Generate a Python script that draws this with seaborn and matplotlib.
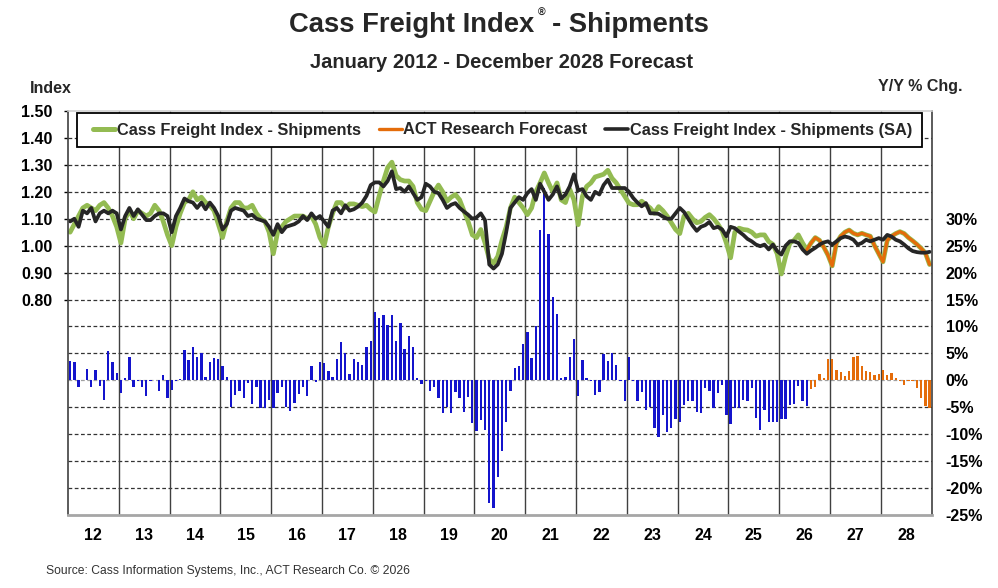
import numpy as np
import pandas as pd
import matplotlib.pyplot as plt
import seaborn as sns
from matplotlib.lines import Line2D
from matplotlib.patches import Rectangle

# x axis: monthly, Jan 2012 - Dec 2028, one label per year
year_labels = ['12', '13', '14', '15', '16', '17', '18', '19', '20',
               '21', '22', '23', '24', '25', '26', '27', '28']

# Cass Freight Index - Shipments (actual months)
cass_shipments = [
    1.05, 1.08, 1.11, 1.14, 1.15, 1.14, 1.13, 1.15, 1.16, 1.14, 1.11, 1.07,
    1.01, 1.10, 1.13, 1.10, 1.13, 1.12, 1.11, 1.12, 1.15, 1.13, 1.09, 1.04,
    1.00, 1.07, 1.12, 1.16, 1.17, 1.20, 1.17, 1.18, 1.16, 1.15, 1.13, 1.08,
    1.03, 1.09, 1.14, 1.16, 1.16, 1.14, 1.14, 1.15, 1.12, 1.10, 1.09, 1.05,
    0.97, 1.05, 1.07, 1.09, 1.10, 1.11, 1.11, 1.11, 1.10, 1.11, 1.08, 1.03,
    1.00, 1.07, 1.12, 1.16, 1.16, 1.14, 1.155, 1.155, 1.15, 1.145, 1.15, 1.135,
    1.125, 1.185, 1.24, 1.29, 1.31, 1.26, 1.245, 1.24, 1.24, 1.22, 1.16, 1.135,
    1.13, 1.165, 1.20, 1.225, 1.20, 1.165, 1.18, 1.19, 1.17, 1.13, 1.09, 1.04,
    1.03, 1.06, 1.01, 0.95, 0.935, 0.96, 1.02, 1.07, 1.14, 1.18, 1.16, 1.14,
    1.115, 1.14, 1.20, 1.233, 1.27, 1.233, 1.20, 1.233, 1.17, 1.16, 1.21, 1.17,
    1.078, 1.183, 1.22, 1.233, 1.255, 1.26, 1.265, 1.28, 1.25, 1.233, 1.208, 1.183,
    1.158, 1.152, 1.152, 1.165, 1.152, 1.14, 1.12, 1.145, 1.13, 1.11, 1.085, 1.06,
    1.045, 1.11, 1.12, 1.10, 1.085, 1.09, 1.105, 1.115, 1.10, 1.08, 1.055, 1.01,
    0.955, 1.05, 1.065, 1.06, 1.058, 1.05, 1.035, 1.04, 1.04, 1.015, 1.005, 0.97,
    0.895, 0.96, 1.01, 1.02, 1.04, 1.01, 0.985,
]

# ACT Research forecast of the index
act_forecast = [
    1.01, 1.03, 1.02, 0.995, 0.965,
    0.925, 1.01, 1.035, 1.05, 1.058, 1.046, 1.04, 1.046, 1.04, 1.035, 1.00, 0.97,
    0.94, 1.02, 1.035, 1.045, 1.052, 1.045, 1.03, 1.018, 1.005, 0.99, 0.973, 0.93,
]

# Cass Freight Index - Shipments (SA), whole span
cass_shipments_sa = [
    1.09, 1.10, 1.07, 1.13, 1.12, 1.14, 1.09, 1.12, 1.13, 1.12, 1.13, 1.12,
    1.06, 1.11, 1.14, 1.11, 1.135, 1.115, 1.095, 1.095, 1.11, 1.12, 1.12, 1.11,
    1.05, 1.11, 1.14, 1.175, 1.165, 1.16, 1.14, 1.16, 1.135, 1.16, 1.14, 1.11,
    1.06, 1.08, 1.13, 1.14, 1.135, 1.13, 1.11, 1.115, 1.10, 1.095, 1.09, 1.07,
    1.04, 1.08, 1.05, 1.07, 1.075, 1.08, 1.09, 1.11, 1.095, 1.12, 1.10, 1.11,
    1.09, 1.07, 1.13, 1.14, 1.12, 1.15, 1.13, 1.135, 1.145, 1.16, 1.185, 1.225,
    1.235, 1.235, 1.22, 1.24, 1.276, 1.21, 1.214, 1.20, 1.22, 1.195, 1.17, 1.18,
    1.23, 1.22, 1.20, 1.195, 1.17, 1.14, 1.152, 1.158, 1.14, 1.127, 1.115, 1.10,
    1.105, 1.12, 1.095, 0.93, 0.915, 0.93, 0.97, 1.05, 1.14, 1.16, 1.18, 1.17,
    1.195, 1.21, 1.17, 1.23, 1.20, 1.17, 1.19, 1.22, 1.175, 1.19, 1.22, 1.265,
    1.205, 1.21, 1.183, 1.17, 1.20, 1.19, 1.225, 1.245, 1.214, 1.214, 1.214, 1.214,
    1.20, 1.177, 1.16, 1.146, 1.158, 1.12, 1.12, 1.118, 1.108, 1.10, 1.10, 1.12,
    1.14, 1.125, 1.10, 1.075, 1.055, 1.07, 1.076, 1.088, 1.065, 1.07, 1.06, 1.035,
    1.07, 1.065, 1.052, 1.04, 1.025, 1.016, 1.004, 0.998, 1.004, 0.986, 1.004, 0.98,
    0.967, 1.0, 1.016, 1.016, 1.01, 0.986, 0.97, 0.982, 0.992, 1.004, 1.012, 1.016,
    1.004, 1.016, 1.028, 1.034, 1.03, 1.022, 1.004, 1.01, 1.022, 1.016, 1.022, 1.028,
    1.022, 1.04, 1.034, 1.022, 1.016, 1.004, 0.99, 0.98, 0.976, 0.974, 0.974, 0.977,
]

# Y/Y % change, actual and forecast
yoy_actual = [
    3.6, 3.4, -1.25, 0.1, 2.1, -1.25, 1.9, -1.0, -3.6, 5.4, 3.4, 1.4,
    -2.4, 0.4, 4.3, -1.25, -0.2, -1.25, -3.0, -0.2, 0.1, -1.9, 0.9, -3.2,
    -1.75, -0.1, 0.3, 5.6, 3.7, 6.1, 4.4, 5.0, 0.6, 3.4, 4.1, 3.9,
    2.6, 0.6, -4.9, -2.7, -1.9, -3.3, -0.5, -4.4, -1.25, -5.2, -5.2, -3.6,
    -5.2, -2.4, -1.25, -5.0, -5.7, -4.25, -2.5, -1.25, -3.0, 2.6, -0.3, 3.4,
    3.25, 1.8, 0.6, 4.0, 7.1, 5.0, 1.25, 3.9, 3.4, 2.9, 6.25, 7.3,
    12.6, 11.6, 12.1, 10.25, 12.1, 7.3, 10.6, 5.9, 8.25, 6.1, 0.4, -0.6,
    -0.2, -1.9, -1.25, -3.3, -6.0, -5.0, -6.0, -2.1, -3.3, -5.8, -3.1, -8.0,
    -9.4, -7.4, -9.25, -22.7, -23.7, -17.9, -13.1, -7.7, -1.9, 2.3, 2.6, 6.8,
    8.9, 4.1, 10.1, 27.9, 35.7, 27.2, 15.5, 12.4, 0.4, 0.6, 4.4, 7.75,
    -2.9, 3.7, 0.4, -0.2, -2.7, -2.1, 4.8, 3.6, 5.1, 2.9, -0.2, -3.75,
    4.4, -0.2, -3.9, -2.25, -5.5, -4.9, -8.9, -10.5, -6.4, -9.6, -8.9, -7.1,
    -7.75, -4.6, -3.75, -3.9, -5.8, -6.0, -1.4, -1.9, -5.2, -2.4, -0.8, -6.4,
    -8.1, -5.2, -5.2, -3.6, -3.9, -1.4, -6.9, -9.25, -5.5, -7.75, -7.75, -7.75,
    -7.1, -7.1, -4.6, -4.4, -1.1, -3.9, -4.75,
]
yoy_forecast = [
    -1.6, -1.25, 1.25, 0.4, 3.9,
    3.9, 2.0, 1.5, 0.75, 1.7, 4.4, 4.6, 2.75, 1.8, 1.5, 0.9, 1.25,
    1.9, 0.9, 1.4, 0.4, -0.2, -0.8, -0.2, -0.2, -1.4, -3.3, -4.75, -5.2,
]

GREEN = '#93bb52'
ORANGE = '#e46c0a'
BLACK = '#262626'
BLUE = '#1414cc'

n_act = len(cass_shipments)
months = np.arange(n_act + len(act_forecast))

bars = pd.DataFrame({
    'month': months,
    'yoy': yoy_actual + yoy_forecast,
    'kind': ['actual'] * n_act + ['forecast'] * len(act_forecast),
})

sns.set_theme(style='white')
plt.rcParams['font.family'] = ['Liberation Sans', 'DejaVu Sans']
plt.rcParams['font.weight'] = 'bold'

# plot box in pixels: x 68..931.7, y 111..515
W, H = 863.7, 404.0
fig = plt.figure(figsize=(9.98, 5.88), dpi=100)
ax = fig.add_axes([68 / 998, 73 / 588, W / 998, H / 588])
ax2 = ax.twinx()

# dashed horizontal grid (shared by both scales) and year separators
for v in range(-20, 50, 5):
    ax.axhline(v, color='#a0a0a0' if v == 0 else '#333333', lw=0.9,
               ls=(0, (3, 2)), zorder=0.5)
for k in range(1, len(year_labels)):
    ax.axvline(12 * k - 0.5, color='#404040', lw=1.0, zorder=0.5)

# Y/Y % change bars (right scale)
sns.barplot(data=bars, x='month', y='yoy', hue='kind',
            hue_order=['actual', 'forecast'],
            palette={'actual': BLUE, 'forecast': ORANGE},
            native_scale=True, dodge=False, width=0.55, saturation=1,
            linewidth=0, errorbar=None, legend=False, ax=ax, zorder=1)

# index lines (left scale)
sns.lineplot(x=months, y=cass_shipments + act_forecast, color=GREEN, lw=3.4,
             ax=ax2, solid_joinstyle='round')
sns.lineplot(x=months[n_act - 1:], y=[cass_shipments[-1]] + act_forecast,
             color=ORANGE, lw=2.3, ax=ax2, solid_joinstyle='round')
sns.lineplot(x=months, y=cass_shipments_sa, color=BLACK, lw=2.7, ax=ax2,
             solid_joinstyle='round')

ax.set_xlim(-0.5, len(months) - 0.5)
ax.set_ylim(-25, 50)
ax2.set_ylim(0, 1.5)

ax.set_xticks([12 * k + 5.5 for k in range(len(year_labels))])
ax.set_xticklabels(year_labels)
ax.yaxis.tick_right()
pct_ticks = list(range(-25, 35, 5))
ax.set_yticks(pct_ticks)
ax.set_yticklabels([f'{v}%' for v in pct_ticks])
ax2.yaxis.tick_left()
idx_ticks = [0.8, 0.9, 1.0, 1.1, 1.2, 1.3, 1.4, 1.5]
ax2.set_yticks(idx_ticks)
ax2.set_yticklabels([f'{v:.2f}' for v in idx_ticks])

ax.tick_params(axis='x', length=0, pad=9, labelsize=11.5, colors='black')
ax.tick_params(axis='y', length=0, pad=10, labelsize=11.5, colors='black',
               right=True, labelright=True, left=False, labelleft=False)
ax2.tick_params(axis='y', length=3, width=1, direction='out', pad=8,
                labelsize=11.5, colors='black', left=True, labelleft=True,
                right=False, labelright=False)
for a in (ax, ax2):
    a.set_xlabel('')
    a.set_ylabel('')
    a.grid(False)
for s in ax.spines.values():
    s.set_visible(False)
ax2.spines['top'].set_color('#d0d0d0')
ax2.spines['top'].set_linewidth(1.2)
ax2.spines['left'].set_color('#404040')
ax2.spines['left'].set_linewidth(1.2)
ax2.spines['right'].set_color('#404040')
ax2.spines['right'].set_linewidth(1.2)
ax2.spines['bottom'].set_color('#a6a6a6')
ax2.spines['bottom'].set_linewidth(2)

# legend: frame box x 77..922, y 113..147 (pixels)
ax2.add_patch(Rectangle(((77.3 - 68) / W, (515 - 146.7) / H),
                        (922 - 77.3) / W, 33.4 / H, transform=ax2.transAxes,
                        facecolor='white', edgecolor='black', lw=1.3,
                        zorder=4, clip_on=False))
handles = [Line2D([], [], color=GREEN, lw=3.6),
           Line2D([], [], color=ORANGE, lw=2.4),
           Line2D([], [], color=BLACK, lw=2.6)]
labels = ['Cass Freight Index - Shipments', 'ACT Research Forecast',
          'Cass Freight Index - Shipments (SA)']
leg = ax2.legend(handles, labels, loc='center left',
                 bbox_to_anchor=((92.7 - 68) / W, (515 - 130) / H),
                 ncol=3, prop={'weight': 'bold', 'size': 11.8},
                 frameon=False, handlelength=1.38, handletextpad=0.1,
                 columnspacing=1.1, borderpad=0, borderaxespad=0)
leg.set_zorder(5)

# titles and axis captions
fig.text(289 / 998, 1 - 31.7 / 588, 'Cass Freight Index', fontsize=19.7,
         fontweight='bold', ha='left', va='baseline')
fig.text(538 / 998, 1 - 13 / 588, '®', fontsize=7.5, fontweight='bold',
         ha='left', va='center')
fig.text(552 / 998, 1 - 31.7 / 588, '- Shipments', fontsize=19.7,
         fontweight='bold', ha='left', va='baseline')
fig.text(501.5 / 998, 1 - 67.7 / 588, 'January 2012 - December 2028 Forecast',
         fontsize=14.5, fontweight='bold', ha='center', va='baseline')
fig.text(30 / 998, 1 - 93 / 588, 'Index', fontsize=11.5, fontweight='bold',
         ha='left', va='baseline')
fig.text(878 / 998, 1 - 90.7 / 588, 'Y/Y % Chg.', fontsize=11.5,
         fontweight='bold', ha='left', va='baseline')
fig.text(45.7 / 998, 1 - 574 / 588,
         'Source: Cass Information Systems, Inc., ACT Research Co. © 2026',
         fontsize=8.7, fontweight='normal', color='#333333', ha='left',
         va='baseline')

fig.savefig('out.png', dpi=100, facecolor='white')
